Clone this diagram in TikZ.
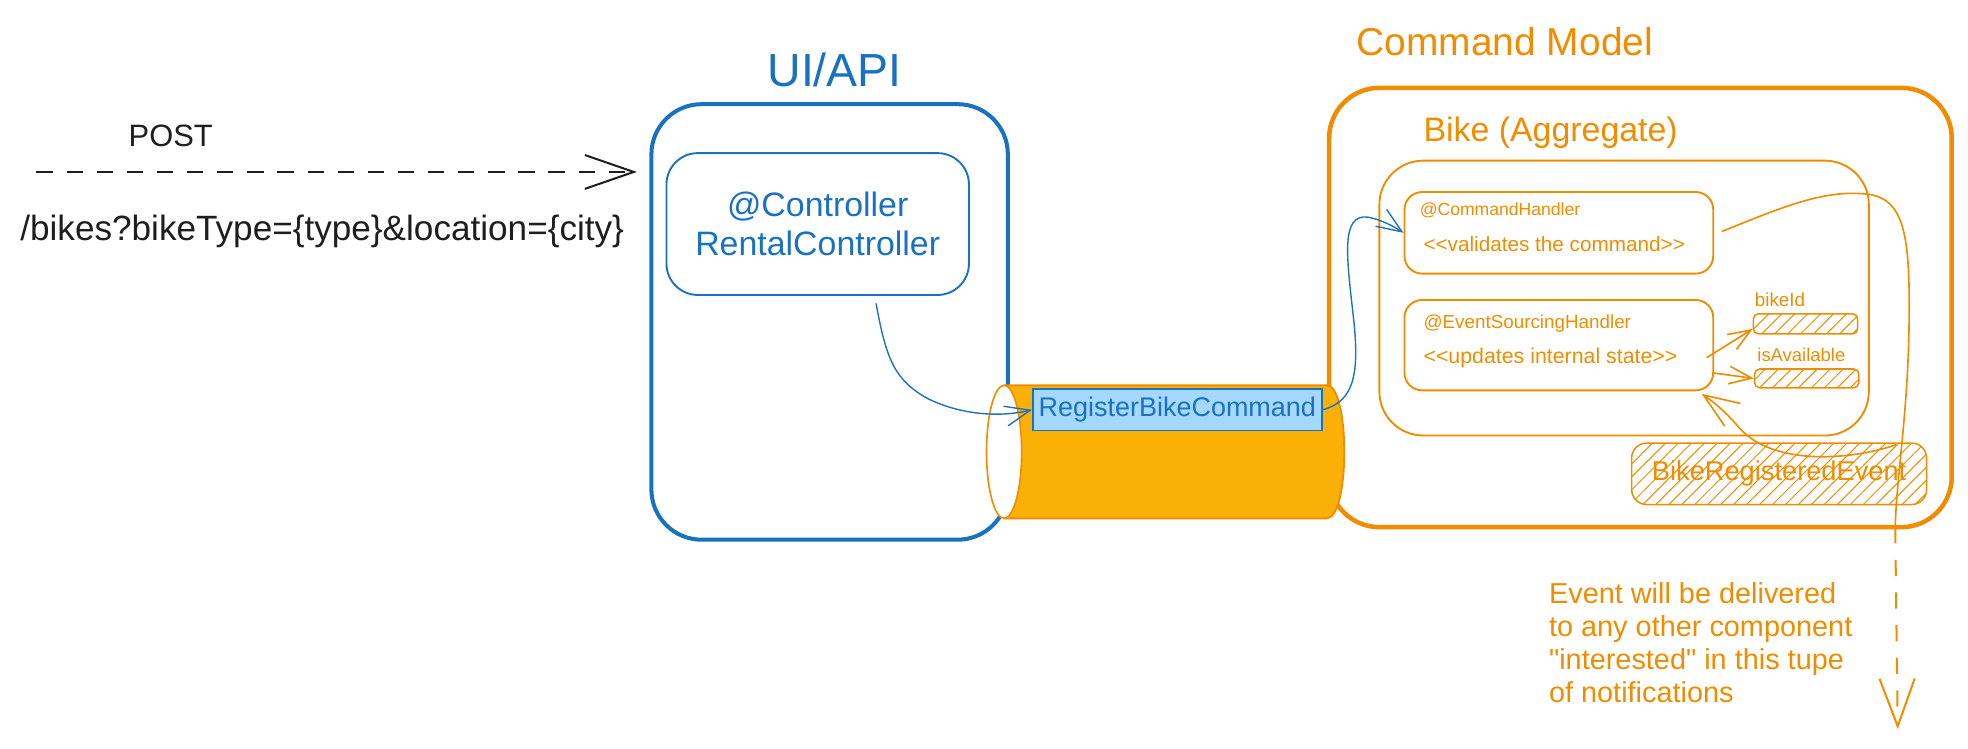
\documentclass[tikz,border=0pt]{standalone}
\usepackage{fontspec}
\setmainfont{Liberation Sans}[Ligatures=TeXOff]
\usepackage{xcolor}
\usepackage{tikz}
\usetikzlibrary{arrows.meta,patterns.meta,calc}

\definecolor{ink}{HTML}{1E1E1E}
\definecolor{uiblue}{HTML}{1971C2}
\definecolor{cmdfill}{HTML}{A5D8FF}
\definecolor{cmorange}{HTML}{F08C00}
\definecolor{cylfill}{HTML}{FAB005}

\newcommand{\handfont}[2]{\fontsize{#1}{#2}\selectfont}

\begin{document}
\begin{tikzpicture}[x=1pt,y=-1pt,
    outerbox/.style={draw,line width=3.2pt,rounded corners=40pt,inner sep=0pt},
    innerbox/.style={draw,line width=1.5pt,rounded corners=#1,inner sep=0pt},
    innerbox/.default=14pt,
    hatchbox/.style={draw=cmorange,line width=1.2pt,rounded corners=#1,inner sep=0pt,
        pattern={Lines[angle=45,distance=7.3pt,line width=0.8pt]},pattern color=cmorange},
    hatchbox/.default=4pt,
    txt/.style={inner sep=0pt,anchor=base},
    txtleft/.style={inner sep=0pt,anchor=base west},
    blueline/.style={draw=uiblue,line width=1.1pt,-{Straight Barb[length=20pt,width=16pt]}},
    orangeline/.style={draw=cmorange,line width=1.3pt}]
    \useasboundingbox (0,0) rectangle (1568,596);

    % request from the client
    \node[txt,text=ink,font=\handfont{24.6}{28}] (post) at (136,117) {POST};
    \node[txtleft,text=ink,font=\handfont{28}{32}] (url) at (16,192) {/bikes?bikeType=\{type\}\&location=\{city\}};
    \coordinate (client) at (29,137);

    % UI/API
    \node[txt,text=uiblue,font=\handfont{37}{42}] (uititle) at (665,69) {UI/API};
    \node[outerbox,draw=uiblue,minimum width=284pt,minimum height=347pt] (ui) at (661,256.5) {};
    \node[innerbox=25pt,draw=uiblue,minimum width=241pt,minimum height=113pt,text=uiblue,
        font=\handfont{27}{31},align=center] (ctrl) at (651.5,178.5) {@Controller\\RentalController};
    \draw[ink,line width=1.6pt,dash pattern=on 13pt off 11pt,-{Straight Barb[length=39pt,width=27pt]}]
        (client) -- ([xshift=-10pt]client -| ui.west);

    % Command Model
    \node[txt,text=cmorange,font=\handfont{31}{36}] (cmtitle) at (1199,44) {Command Model};
    \node[outerbox,draw=cmorange,line width=3.6pt,minimum width=496pt,minimum height=350pt] (cm) at (1307,245) {};
    \node[txtleft,text=cmorange,font=\handfont{27}{31}] (aggtitle) at (1134,113) {Bike (Aggregate)};
    \node[innerbox=35pt,draw=cmorange,minimum width=390pt,minimum height=219pt] (agg) at (1294,237.5) {};

    \node[innerbox,draw=cmorange,minimum width=246pt,minimum height=65pt] (ch) at (1242,185.5) {};
    \node[txtleft,text=cmorange,font=\handfont{14}{16}] (chname) at (1131,172) {@CommandHandler};
    \node[txtleft,text=cmorange,font=\handfont{16.5}{19}] (chnote) at (1134,200) {<<validates the command>>};

    \node[innerbox,draw=cmorange,minimum width=246pt,minimum height=72pt] (esh) at (1242,275) {};
    \node[txtleft,text=cmorange,font=\handfont{15}{17}] (eshname) at (1134,262) {@EventSourcingHandler};
    \node[txtleft,text=cmorange,font=\handfont{17}{20}] (eshnote) at (1134,290) {<<updates internal state>>};

    % state of the aggregate
    \node[txtleft,text=cmorange,font=\handfont{15}{17}] (bikeidname) at (1398,244) {bikeId};
    \node[hatchbox,minimum width=83pt,minimum height=16pt] (bikeid) at (1438.5,258) {};
    \node[txtleft,text=cmorange,font=\handfont{14.7}{17}] (availname) at (1400,288) {isAvailable};
    \node[hatchbox,minimum width=83pt,minimum height=15pt] (avail) at (1439.5,301.5) {};

    \node[hatchbox=12pt,minimum width=235pt,minimum height=49pt,text=cmorange,
        font=\handfont{21.7}{25}] (bre) at (1417.5,377.5) {BikeRegisteredEvent};

    % command bus
    \fill[cylfill] (800,307) -- (1057,307) .. controls (1075.7,307) and (1075.7,413) .. (1057,413) -- (800,413) -- cycle;
    \draw[cmorange,line width=1.5pt] (800,307) -- (1057,307) .. controls (1075.7,307) and (1075.7,413) .. (1057,413) -- (800,413);
    \draw[cmorange,line width=1.3pt,fill=white] (800,360) ellipse [x radius=14, y radius=53];
    \node[draw=uiblue,fill=cmdfill,line width=1.5pt,minimum width=230pt,minimum height=33pt,inner sep=0pt,
        text=uiblue,font=\handfont{21.5}{25}] (cmd) at (938,326.5) {RegisterBikeCommand};

    % connectors
    \draw[blueline] ($(ctrl.south)+(46.5,6)$) .. controls (706,285) and (712,303) .. (740,318)
        .. controls (765,330) and (795,333) .. (cmd.west);
    \draw[blueline] (cmd.east) .. controls (1078,320) and (1084,300) .. (1078,250)
        .. controls (1073,205) and (1068,170) .. (1090,173) .. controls (1100,175) and (1110,180) .. (ch.west);

    \coordinate (evout) at (1510,420);
    \coordinate (notify) at (1512,581);
    \draw[orangeline] ($(ch.east)+(6,-1)$) .. controls (1420,165) and (1455,150) .. (1490,155)
        .. controls (1518,160) and (1522,190) .. (1521,260) .. controls (1520,330) and (1511,380) .. (evout);
    \draw[orangeline,line width=1.6pt,dash pattern=on 13pt off 13pt,-{Straight Barb[length=38pt,width=28pt]}]
        (evout) -- (notify);
    \draw[orangeline,-{Straight Barb[length=28pt,width=22pt]}] ($(bre.north east)+(-25,2)$)
        .. controls (1470,368) and (1410,370) .. (1385,340) .. controls (1372,325) and (1362,318) .. ($(esh.south east)+(-10,2)$);
    \draw[orangeline,-{Straight Barb[length=18pt,width=14pt]}] ($(esh.east)+(-6,10)$) -- ($(bikeid.west)+(0,4)$);
    \draw[orangeline,-{Straight Barb[length=18pt,width=14pt]}] ($(esh.east)+(-2,22)$) -- (avail.west);

    \node[inner sep=0pt,anchor=north west,align=left,text=cmorange,font=\handfont{23}{26.4}] (evnote) at (1234,464)
        {Event will be delivered\\to any other component\\"interested" in this tupe\\of notifications};
\end{tikzpicture}
\end{document}
